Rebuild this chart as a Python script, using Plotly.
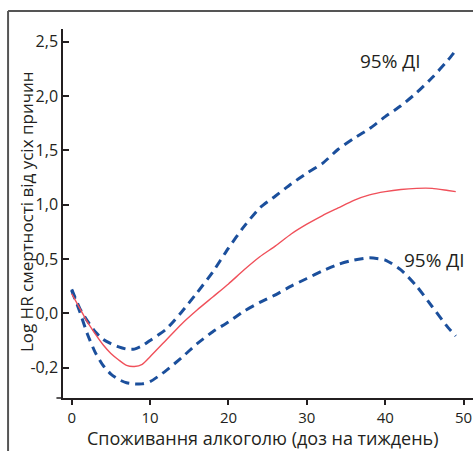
import plotly.graph_objects as go

# Alcohol consumption (doses per week)
x_vals = [0, 1, 2, 3, 4, 5, 6, 7, 8, 9, 10, 12, 14, 16, 18, 20, 22, 24, 26, 28,
          30, 32, 34, 36, 38, 40, 42, 44, 46, 48, 49]

# Estimate (red line)
hr_est = [0.18, 0.05, -0.08, -0.19, -0.29, -0.37, -0.43, -0.48, -0.49, -0.47, -0.40,
          -0.25, -0.10, 0.03, 0.15, 0.27, 0.40, 0.52, 0.62, 0.73,
          0.82, 0.90, 0.97, 1.04, 1.09, 1.12, 1.14, 1.15, 1.15, 1.13, 1.12]

# Upper 95% CI
ci_upper = [0.22, 0.05, -0.07, -0.17, -0.24, -0.28, -0.31, -0.33, -0.33, -0.30, -0.25,
            -0.15, 0.01, 0.19, 0.38, 0.60, 0.80, 0.97, 1.08, 1.19,
            1.29, 1.38, 1.51, 1.61, 1.70, 1.81, 1.91, 2.03, 2.17, 2.33, 2.42]

# Lower 95% CI
ci_lower = [0.21, 0.02, -0.19, -0.36, -0.48, -0.56, -0.61, -0.64, -0.65, -0.65, -0.63,
            -0.53, -0.41, -0.28, -0.17, -0.08, 0.02, 0.10, 0.17, 0.25,
            0.32, 0.39, 0.45, 0.49, 0.51, 0.49, 0.40, 0.25, 0.06, -0.13, -0.21]

y_tickvals = [-0.5, 0, 0.5, 1.0, 1.5, 2.0, 2.5]
y_ticktext = ["-0,2", "0,0", "0,5", "1,0", "1,5", "2,0", "2,5"]
x_tickvals = [0, 10, 20, 30, 40, 50]

x_title = "Споживання алкоголю (доз на тиждень)"
y_title = "Log HR смертності від усіх причин"
ci_label = "95% ДІ"
upper_label_pos = (40.7, 2.32)
lower_label_pos = (46.3, 0.49)

FONT = "'Open Sans', 'Noto Sans', sans-serif"
TXT = "#231f20"
BLUE = "#1b4f9c"
RED = "#f0505a"

fig = go.Figure()
fig.add_trace(go.Scatter(x=x_vals, y=ci_upper, mode="lines",
                         line=dict(color=BLUE, width=3, dash="9px,6px", shape="spline", smoothing=0.6),
                         hoverinfo="skip", showlegend=False))
fig.add_trace(go.Scatter(x=x_vals, y=ci_lower, mode="lines",
                         line=dict(color=BLUE, width=3, dash="9px,6px", shape="spline", smoothing=0.6),
                         hoverinfo="skip", showlegend=False))
fig.add_trace(go.Scatter(x=x_vals, y=hr_est, mode="lines",
                         line=dict(color=RED, width=1.4, shape="spline", smoothing=0.6),
                         hoverinfo="skip", showlegend=False))

for pos in (upper_label_pos, lower_label_pos):
    fig.add_annotation(x=pos[0], y=pos[1], text=ci_label, showarrow=False,
                       font=dict(family=FONT, size=19, color=TXT))

# axis titles
fig.add_annotation(xref="paper", yref="paper", x=0.489, y=-0.1084, text=x_title,
                   showarrow=False, xanchor="center", yanchor="middle",
                   font=dict(family=FONT, size=18, color=TXT))
fig.add_annotation(xref="paper", yref="paper", x=-0.09, y=0.504, text=y_title,
                   showarrow=False, xanchor="center", yanchor="middle", textangle=-90,
                   font=dict(family=FONT, size=17, color=TXT))

# frame (page border) and axis overhang
fig.add_shape(type="line", xref="paper", yref="paper", x0=-0.134, x1=1.02, y0=1.049, y1=1.049,
              line=dict(color="#555555", width=2))
fig.add_shape(type="line", xref="paper", yref="paper", x0=-0.134, x1=-0.134, y0=1.049, y1=-0.2,
              line=dict(color="#555555", width=2))
fig.add_shape(type="line", xref="paper", yref="paper", x0=-0.016, x1=0, y0=0, y1=0,
              line=dict(color=TXT, width=1.5))

fig.update_layout(
    width=473, height=451,
    margin=dict(l=63, r=0, t=29, b=53, autoexpand=False),
    paper_bgcolor="white", plot_bgcolor="white",
    font=dict(family=FONT, color=TXT),
    xaxis=dict(range=[-1.11, 51.2], tickvals=x_tickvals, ticks="outside", ticklen=5,
               tickwidth=1.5, tickcolor=TXT, showline=True, linecolor=TXT, linewidth=1.5,
               showgrid=False, zeroline=False, tickfont=dict(size=15, family=FONT, color=TXT),
               automargin=False),
    yaxis=dict(range=[-0.78, 2.617], tickvals=y_tickvals, ticktext=y_ticktext,
               ticks="inside", ticklen=6, tickwidth=1.5, tickcolor=TXT,
               showline=True, linecolor=TXT, linewidth=1.5, showgrid=False, zeroline=False,
               tickfont=dict(size=16, family=FONT, color=TXT), automargin=False),
)

fig.write_html("out.html", config={"displayModeBar": False},
               post_script="document.body.style.margin='0';")
